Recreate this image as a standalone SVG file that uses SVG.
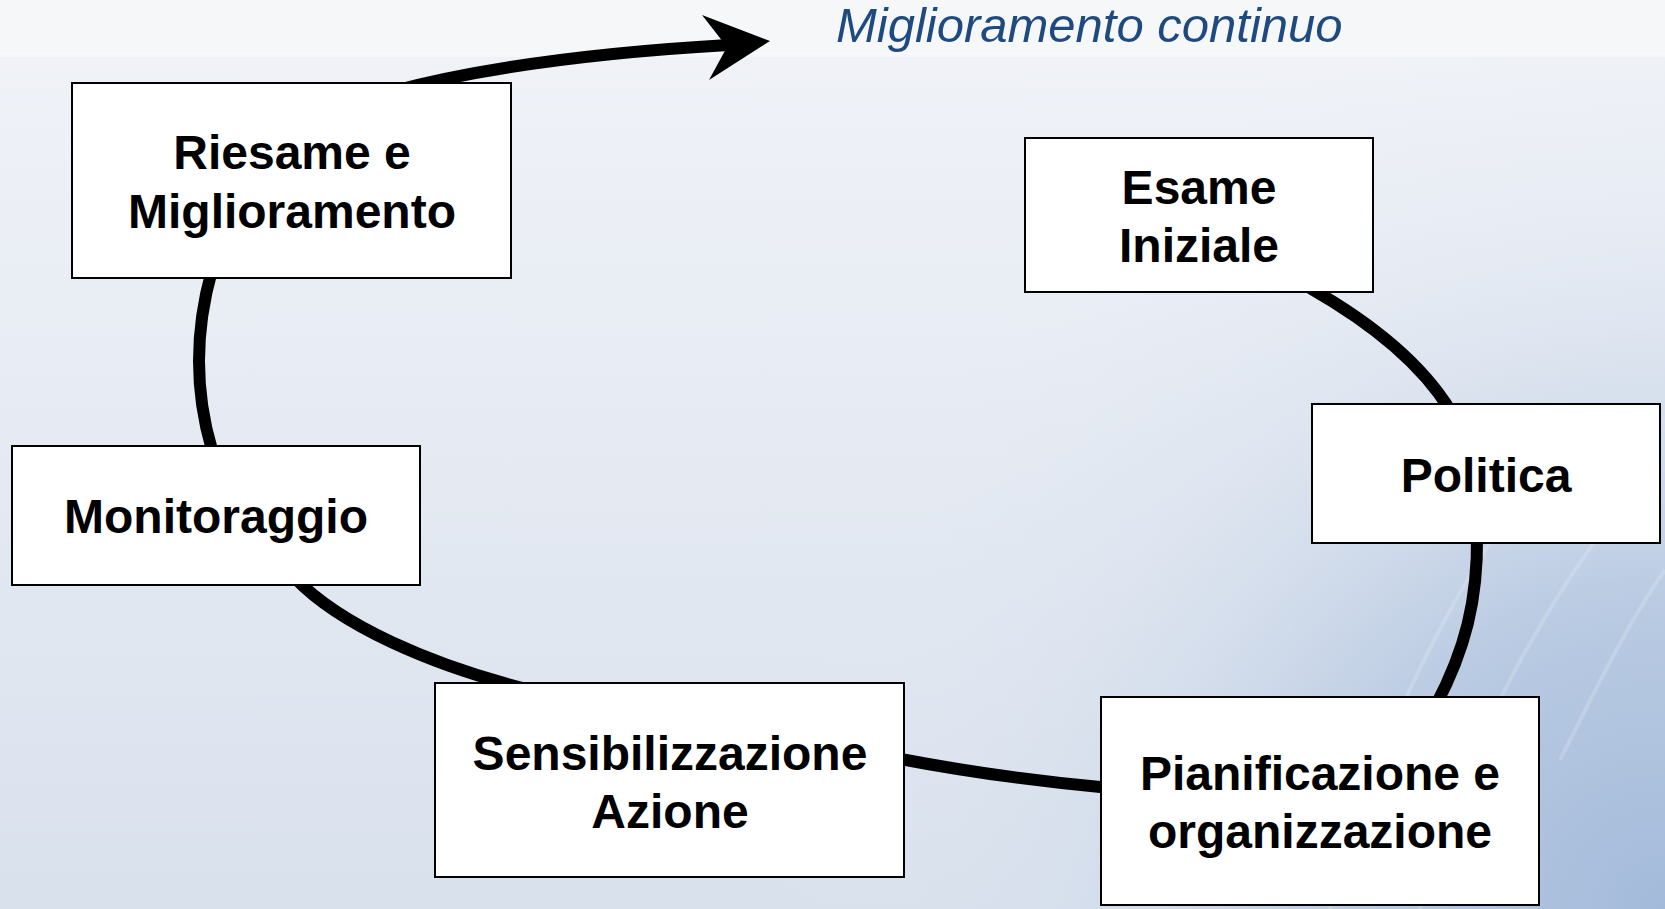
<svg xmlns="http://www.w3.org/2000/svg" width="1665" height="909" viewBox="0 0 1665 909">
<defs>
<linearGradient id="bgv" x1="0" y1="0" x2="0" y2="1">
<stop offset="0" stop-color="#F1F3F8"/>
<stop offset="1" stop-color="#D9E1ED"/>
</linearGradient>
<radialGradient id="bgr" cx="1665" cy="909" r="900" gradientUnits="userSpaceOnUse">
<stop offset="0" stop-color="#A3BADA" stop-opacity="1"/>
<stop offset="0.35" stop-color="#B3C6E0" stop-opacity="0.85"/>
<stop offset="0.7" stop-color="#D3DDEC" stop-opacity="0.3"/>
<stop offset="1" stop-color="#E8EDF5" stop-opacity="0"/>
</radialGradient>
<style>
.box{fill:#FFFFFF;stroke:#000000;stroke-width:2}
.lbl{font-family:"Liberation Sans",Arial,sans-serif;font-weight:bold;font-size:48px;fill:#000000;text-anchor:middle}
.con{fill:none;stroke:#000000;stroke-width:12}
.title{font-family:"Liberation Sans",Arial,sans-serif;font-style:italic;font-size:49px;fill:#1F4A80}
.streak{fill:none;stroke:#FFFFFF;stroke-opacity:0.18;stroke-width:4}
</style>
</defs>
<g id="background">
<rect x="0" y="0" width="1665" height="909" fill="url(#bgv)"/>
<rect x="0" y="0" width="1665" height="909" fill="url(#bgr)"/>
<rect x="0" y="0" width="1665" height="54" fill="#F7F8FA" opacity="0.75"/>
<rect x="0" y="53" width="1665" height="4" fill="#FFFFFF" opacity="0.4"/>
<path class="streak" d="M1330 909 C 1370 760 1440 600 1560 440"/>
<path class="streak" d="M1420 909 C 1460 760 1540 600 1650 470"/>
<path class="streak" d="M1560 760 C 1600 680 1630 620 1665 570"/>
</g>
<text id="title" class="title" x="836" y="42">Miglioramento continuo</text>
<g id="connectors">
<path class="con" d="M390 92 Q 520 57 728 45"/>
<polygon points="770,41 702,15 727,47 709,80" fill="#000000"/>
<path class="con" d="M212 270 Q 186 362 212 450"/>
<path class="con" d="M295 578 C 340 625 430 665 530 690"/>
<path class="con" d="M895 758 Q 1000 778 1110 788"/>
<path class="con" d="M1477 535 C 1478 600 1465 650 1436 705"/>
<path class="con" d="M1310 288 Q 1410 345 1450 410"/>
</g>
<g id="node-riesame">
<rect class="box" x="72" y="83" width="439" height="195"/>
<text class="lbl" x="292" y="169">Riesame e</text>
<text class="lbl" x="292" y="228">Miglioramento</text>
</g>
<g id="node-esame">
<rect class="box" x="1025" y="138" width="348" height="154"/>
<text class="lbl" x="1199" y="204">Esame</text>
<text class="lbl" x="1199" y="262">Iniziale</text>
</g>
<g id="node-politica">
<rect class="box" x="1312" y="404" width="348" height="139"/>
<text class="lbl" x="1486" y="492">Politica</text>
</g>
<g id="node-monitoraggio">
<rect class="box" x="12" y="446" width="408" height="139"/>
<text class="lbl" x="216" y="533">Monitoraggio</text>
</g>
<g id="node-sensibilizzazione">
<rect class="box" x="435" y="683" width="469" height="194"/>
<text class="lbl" x="670" y="770">Sensibilizzazione</text>
<text class="lbl" x="670" y="828">Azione</text>
</g>
<g id="node-pianificazione">
<rect class="box" x="1101" y="697" width="438" height="208"/>
<text class="lbl" x="1320" y="790">Pianificazione e</text>
<text class="lbl" x="1320" y="848">organizzazione</text>
</g>
</svg>
